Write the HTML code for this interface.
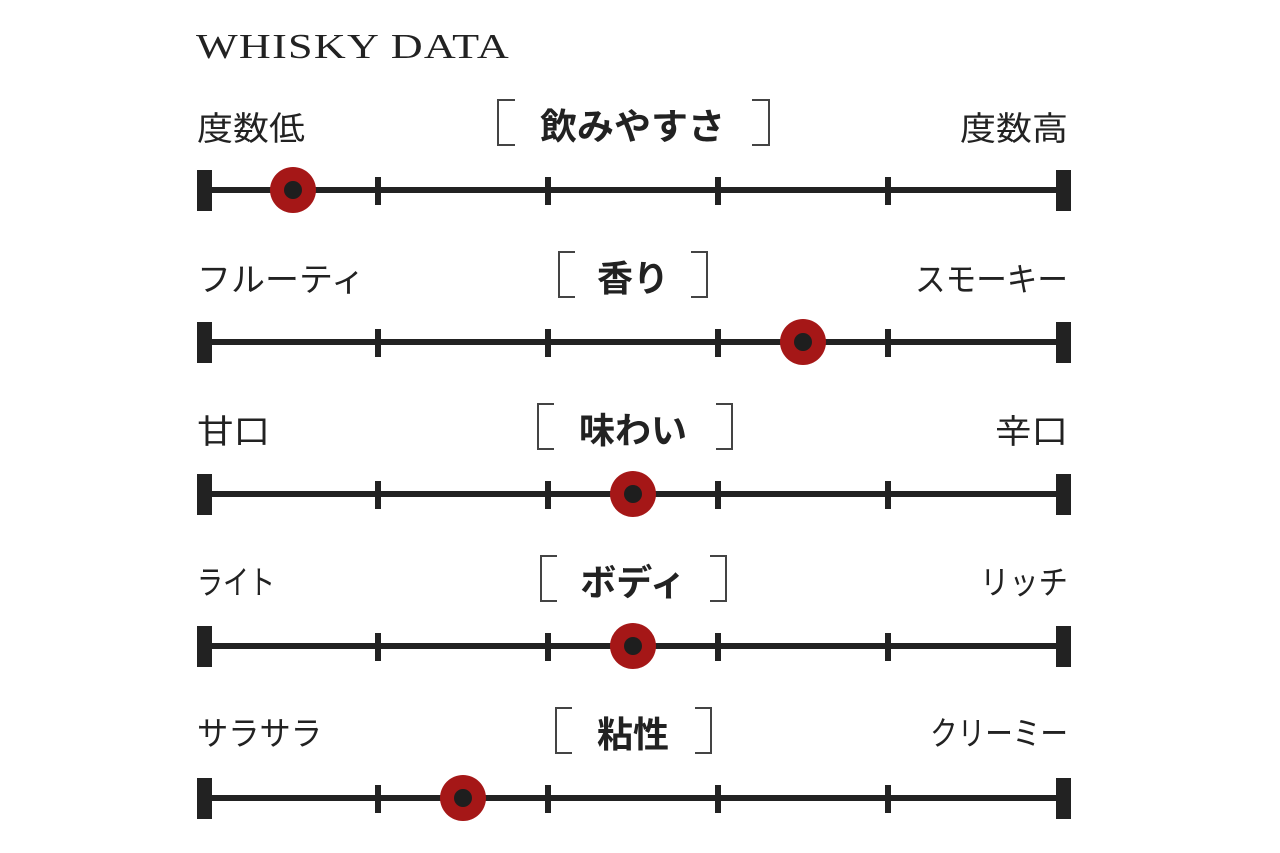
<!DOCTYPE html>
<html><head><meta charset="utf-8"><style>
html,body{margin:0;padding:0;background:#fff;width:1280px;height:853px;overflow:hidden}
svg{display:block}
.lab{font-family:"Liberation Sans","Noto Sans CJK JP",sans-serif;font-size:33px;fill:#222}
.tit{font-family:"Liberation Sans","Noto Sans CJK JP",sans-serif;font-size:36px;font-weight:bold;fill:#222}
.hd{font-family:"Liberation Serif",serif;font-size:35px;fill:#222;letter-spacing:1px}
</style></head><body>
<svg width="1280" height="853" viewBox="0 0 1280 853">
<text class="hd" x="196" y="58" textLength="314" lengthAdjust="spacingAndGlyphs">WHISKY DATA</text>
<g>
<text class="lab" x="197" y="140" textLength="108" lengthAdjust="spacingAndGlyphs">度数低</text>
<text class="lab" x="960" y="140" textLength="108" lengthAdjust="spacingAndGlyphs">度数高</text>
<path d="M515 100 H498 V145 H515" fill="none" stroke="#444" stroke-width="2"/>
<path d="M752 100 H769 V145 H752" fill="none" stroke="#444" stroke-width="2"/>
<text class="tit" x="540" y="139" textLength="185" lengthAdjust="spacingAndGlyphs">飲みやすさ</text>
</g>
<g>
<text class="lab" x="197" y="291" textLength="168" lengthAdjust="spacingAndGlyphs">フルーティ</text>
<text class="lab" x="915" y="291" textLength="153" lengthAdjust="spacingAndGlyphs">スモーキー</text>
<path d="M575 252 H559 V297 H575" fill="none" stroke="#444" stroke-width="2"/>
<path d="M691 252 H707 V297 H691" fill="none" stroke="#444" stroke-width="2"/>
<text class="tit" x="633" y="291" text-anchor="middle">香り</text>
</g>
<g>
<text class="lab" x="197" y="443" textLength="73" lengthAdjust="spacingAndGlyphs">甘口</text>
<text class="lab" x="995" y="443" textLength="73" lengthAdjust="spacingAndGlyphs">辛口</text>
<path d="M554 404 H538 V449 H554" fill="none" stroke="#444" stroke-width="2"/>
<path d="M716 404 H732 V449 H716" fill="none" stroke="#444" stroke-width="2"/>
<text class="tit" x="633" y="443" text-anchor="middle">味わい</text>
</g>
<g>
<text class="lab" x="197" y="594" textLength="78" lengthAdjust="spacingAndGlyphs">ライト</text>
<text class="lab" x="980" y="594" textLength="88" lengthAdjust="spacingAndGlyphs">リッチ</text>
<path d="M557 556 H541 V601 H557" fill="none" stroke="#444" stroke-width="2"/>
<path d="M710 556 H726 V601 H710" fill="none" stroke="#444" stroke-width="2"/>
<text class="tit" x="633" y="595" text-anchor="middle">ボディ</text>
</g>
<g>
<text class="lab" x="197" y="745" textLength="125" lengthAdjust="spacingAndGlyphs">サラサラ</text>
<text class="lab" x="930" y="745" textLength="138" lengthAdjust="spacingAndGlyphs">クリーミー</text>
<path d="M572 708 H556 V753 H572" fill="none" stroke="#444" stroke-width="2"/>
<path d="M695 708 H711 V753 H695" fill="none" stroke="#444" stroke-width="2"/>
<text class="tit" x="633" y="747" text-anchor="middle">粘性</text>
</g>
<g fill="#222">
<rect x="205" y="187" width="858" height="6"/><rect x="197" y="170" width="15" height="41"/><rect x="1056" y="170" width="15" height="41"/>
<rect x="375" y="177" width="6" height="28"/><rect x="545" y="177" width="6" height="28"/><rect x="715" y="177" width="6" height="28"/><rect x="885" y="177" width="6" height="28"/>
<rect x="205" y="339" width="858" height="6"/><rect x="197" y="322" width="15" height="41"/><rect x="1056" y="322" width="15" height="41"/>
<rect x="375" y="329" width="6" height="28"/><rect x="545" y="329" width="6" height="28"/><rect x="715" y="329" width="6" height="28"/><rect x="885" y="329" width="6" height="28"/>
<rect x="205" y="491" width="858" height="6"/><rect x="197" y="474" width="15" height="41"/><rect x="1056" y="474" width="15" height="41"/>
<rect x="375" y="481" width="6" height="28"/><rect x="545" y="481" width="6" height="28"/><rect x="715" y="481" width="6" height="28"/><rect x="885" y="481" width="6" height="28"/>
<rect x="205" y="643" width="858" height="6"/><rect x="197" y="626" width="15" height="41"/><rect x="1056" y="626" width="15" height="41"/>
<rect x="375" y="633" width="6" height="28"/><rect x="545" y="633" width="6" height="28"/><rect x="715" y="633" width="6" height="28"/><rect x="885" y="633" width="6" height="28"/>
<rect x="205" y="795" width="858" height="6"/><rect x="197" y="778" width="15" height="41"/><rect x="1056" y="778" width="15" height="41"/>
<rect x="375" y="785" width="6" height="28"/><rect x="545" y="785" width="6" height="28"/><rect x="715" y="785" width="6" height="28"/><rect x="885" y="785" width="6" height="28"/>
</g>
<g>
<circle cx="293" cy="190" r="23" fill="#a51717"/><circle cx="293" cy="190" r="9" fill="#1e1e1e"/>
<circle cx="803" cy="342" r="23" fill="#a51717"/><circle cx="803" cy="342" r="9" fill="#1e1e1e"/>
<circle cx="633" cy="494" r="23" fill="#a51717"/><circle cx="633" cy="494" r="9" fill="#1e1e1e"/>
<circle cx="633" cy="646" r="23" fill="#a51717"/><circle cx="633" cy="646" r="9" fill="#1e1e1e"/>
<circle cx="463" cy="798" r="23" fill="#a51717"/><circle cx="463" cy="798" r="9" fill="#1e1e1e"/>
</g>
</svg>
</body></html>
